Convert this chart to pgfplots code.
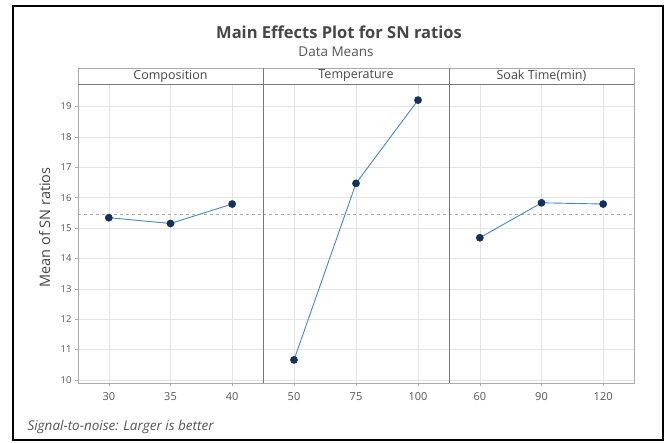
\documentclass[border=0pt]{standalone}
\usepackage{pgfplots}
\pgfplotsset{compat=1.18}
\usepackage{fontspec}
\setmainfont{Open Sans}
\definecolor{txt}{RGB}{70,70,70}
\definecolor{ticktxt}{RGB}{85,85,85}
\definecolor{gridc}{RGB}{228,228,228}
\definecolor{framec}{RGB}{170,170,170}
\definecolor{divc}{RGB}{120,120,120}
\definecolor{linec}{RGB}{70,135,200}
\definecolor{markc}{RGB}{20,50,95}
\definecolor{refc}{RGB}{170,170,170}
\pgfplotsset{
  panel/.style={
    scale only axis, height=299pt,
    xmin=0.5, xmax=3.5, ymin=9.9, ymax=19.74,
    xtick={1,2,3}, ytick={10,11,...,19},
    grid=major, major grid style={draw=gridc, line width=0.5pt},
    axis line style={draw=framec, line width=0.6pt},
    tick style={draw=framec, line width=0.5pt},
    tick align=outside, major tick length=3pt,
    xtick pos=bottom, ytick pos=left,
    yticklabel style={font=\fontsize{9.5}{11}\selectfont, text=ticktxt},
    xticklabel style={font=\fontsize{11}{13}\selectfont, text=ticktxt, yshift=-3pt},
    /pgf/number format/assume math mode=true,
    clip=false, anchor=south west,
  },
  effect/.style={color=linec, line width=0.9pt, mark=*, mark size=3.4pt,
    mark options={fill=markc, draw=markc}},
  refline/.style={refc, line width=0.6pt, dash pattern=on 3pt off 3pt},
}
\newcommand{\strip}[1]{%
  \draw[framec, fill=white, line width=0.6pt] (rel axis cs:0,1) rectangle (rel axis cs:1,1.0535);
  \draw[divc, line width=0.6pt] (rel axis cs:0,1) -- (rel axis cs:1,1);
  \node[font=\fontsize{12.5}{14}\selectfont, text=txt] at (rel axis cs:0.5,1.027) {#1};
}
\begin{document}
\begin{tikzpicture}[x=1pt,y=1pt]
\useasboundingbox (0,0) rectangle (667,442);
\fill[white] (0,0) rectangle (667,442);
\draw[black, line width=1.6pt] (13,2) rectangle (663,436);
\node[font=\bfseries\fontsize{16.5}{19}\selectfont, text=txt] at (339,410) {Main Effects Plot for SN ratios};
\node[font=\fontsize{13.5}{15}\selectfont, text=ticktxt] at (336,390) {Data Means};
\node[font=\itshape\fontsize{13.5}{15}\selectfont, text=ticktxt, anchor=west] at (24,15) {Signal-to-noise: Larger is better};

% Composition
\begin{axis}[panel, at={(78pt,59pt)}, width=185pt,
  xticklabels={30,35,40},
  ylabel={Mean of SN ratios},
  ylabel style={font=\fontsize{14.5}{16}\selectfont, text=txt, at={(axis description cs:-0.18,0.52)}, anchor=center}]
\addplot[refline] coordinates {(0.5,15.44) (3.5,15.44)};
\addplot[effect] coordinates {(1,15.34) (2,15.15) (3,15.79)};
\strip{Composition}
\end{axis}

% Temperature
\begin{axis}[panel, at={(263pt,59pt)}, width=186pt,
  xticklabels={50,75,100}, yticklabels={}, ytick style={draw=none}]
\addplot[refline] coordinates {(0.5,15.44) (3.5,15.44)};
\addplot[effect] coordinates {(1,10.66) (2,16.47) (3,19.21)};
\strip{Temperature}
\draw[divc, line width=0.8pt] (rel axis cs:0,0) -- (rel axis cs:0,1.0535);
\end{axis}

% Soak Time
\begin{axis}[panel, at={(449pt,59pt)}, width=185pt,
  xticklabels={60,90,120}, yticklabels={}, ytick style={draw=none}]
\addplot[refline] coordinates {(0.5,15.44) (3.5,15.44)};
\addplot[effect] coordinates {(1,14.68) (2,15.83) (3,15.79)};
\strip{Soak Time(min)}
\draw[divc, line width=0.8pt] (rel axis cs:0,0) -- (rel axis cs:0,1.0535);
\end{axis}
\end{tikzpicture}
\end{document}
